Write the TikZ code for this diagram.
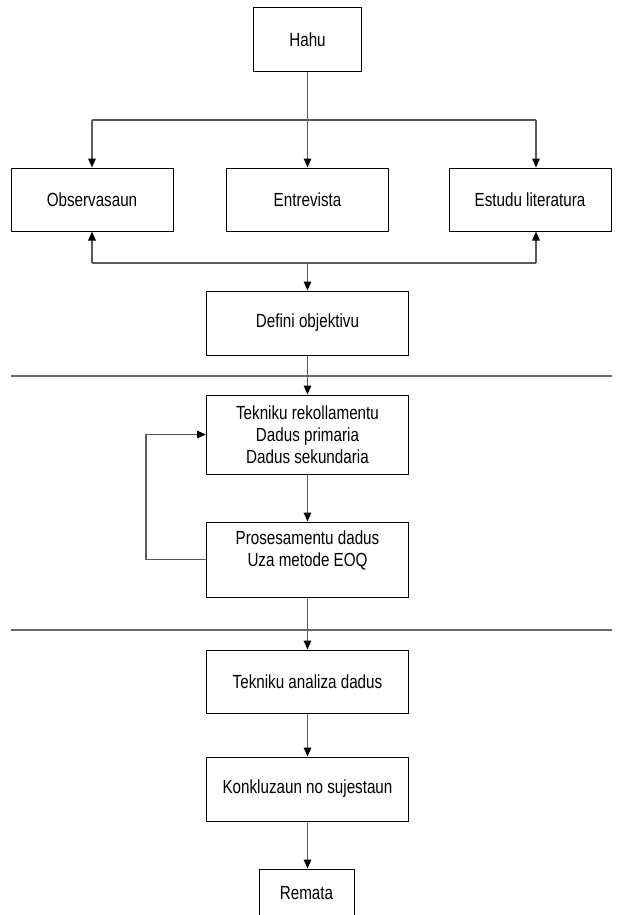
\documentclass[tikz,border=0pt]{standalone}
\usepackage{fontspec}
\setmainfont{Liberation Sans}[FakeStretch=0.8]
\usetikzlibrary{arrows.meta}
\definecolor{conngray}{HTML}{5A5A5A}
\definecolor{sepgray}{HTML}{6A6A6A}
\tikzset{
  box/.style={draw=black, line width=1pt, inner sep=0pt, align=center,
    font=\fontsize{19}{22}\selectfont},
  conn/.style={draw=conngray, line width=1.4pt},
  arr/.style={conn, -{Triangle[length=9pt,width=7.5pt,color=black]}},
  sep/.style={draw=sepgray, line width=2pt}
}
\begin{document}
\begin{tikzpicture}[x=1pt,y=-1pt]
\useasboundingbox (0,0) rectangle (618,915);
% boxes
\node[box, minimum width=108pt, minimum height=64pt] (hahu) at (307.5,40) {Hahu};
\node[box, minimum width=162pt, minimum height=63pt] (obs) at (92,199.5) {Observasaun};
\node[box, minimum width=162pt, minimum height=63pt] (ent) at (307.5,199.5) {Entrevista};
\node[box, minimum width=162pt, minimum height=63pt] (est) at (530,199.5) {Estudu literatura};
\node[box, minimum width=202pt, minimum height=64pt] (def) at (307.5,323) {Defini objektivu};
\node[box, minimum width=202pt, minimum height=79pt] (tek) at (307.5,434.5) {Tekniku rekollamentu\\Dadus primaria\\Dadus sekundaria};
\node[box, minimum width=202pt, minimum height=75pt] (pro) at (307.5,559.5) {Prosesamentu dadus\\Uza metode EOQ\\\mbox{}};
\node[box, minimum width=202pt, minimum height=63pt] (ana) at (307.5,681.5) {Tekniku analiza dadus};
\node[box, minimum width=202pt, minimum height=64pt] (kon) at (307.5,789) {Konkluzaun no sujestaun};
\node[box, minimum width=95pt, minimum height=48pt] (rem) at (306.5,893) {Remata};
% separators
\coordinate (s1l) at (11,376);
\coordinate (s1r) at (612,376);
\coordinate (s2l) at (11,630);
\coordinate (s2r) at (612,630);
\draw[sep] (s1l) -- (s1r);
\draw[sep] (s2l) -- (s2r);
% top branch
\coordinate (btl) at (92,120);
\coordinate (btr) at (536,120);
\draw[arr] (hahu.south) -- (ent.north);
\draw[conn] (btl) -- (btr);
\draw[arr] (btl) -- (obs.north);
\draw[arr] (btr) -- (btr |- est.north);
% bottom merge
\coordinate (bb) at (307.5,263);
\coordinate (bbl) at (92,263);
\coordinate (bbr) at (536,263);
\draw[conn] (bbl) -- (bbr);
\draw[arr] (bbl) -- (obs.south);
\draw[arr] (bbr) -- (bbr |- est.south);
\draw[arr] (bb) -- (def.north);
% chain
\draw[arr] (def.south) -- (tek.north);
\draw[arr] (tek.south) -- (pro.north);
\draw[arr] (pro.south) -- (ana.north);
\draw[arr] (ana.south) -- (kon.north);
\draw[arr] (kon.south) -- (kon.south |- rem.north);
% feedback loop
\coordinate (lb) at (146,559.5);
\coordinate (lt) at (146,434.5);
\draw[arr] (pro.west) -- (lb) -- (lt) -- (tek.west);
\end{tikzpicture}
\end{document}
